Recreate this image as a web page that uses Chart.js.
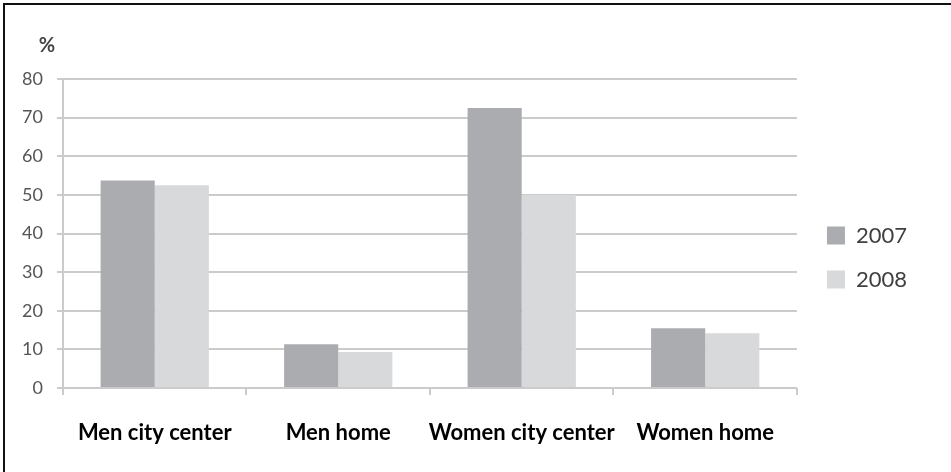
<!DOCTYPE html>
<html>
<head>
<meta charset="utf-8">
<script src="https://cdn.jsdelivr.net/npm/chart.js@4"></script>
<style>
  html, body { margin: 0; padding: 0; background: #fff; }
  #frame {
    position: absolute; left: 3px; top: 3px; width: 960px; height: 480px;
    border-left: 2px solid #111; border-top: 2px solid #111;
  }
  #wrap { position: absolute; left: 0; top: 0; width: 951px; height: 472px; }
</style>
</head>
<body>
<div id="frame"></div>
<div id="wrap"><canvas id="chart" width="951" height="472"></canvas></div>
<script>
// Share of respondents (%) by group and location
const categories = ['Men city center', 'Men home', 'Women city center', 'Women home'];
const seriesNames = ['2007', '2008'];
const values2007 = [53.7, 11.3, 72.5, 15.5];
const values2008 = [52.5, 9.3, 50, 14.2];
const yTicks = [0, 10, 20, 30, 40, 50, 60, 70, 80];
const unitLabel = '%';

const colors = ['#abacaf', '#d8d9db'];
const gridColor = '#cbcbcb';

// Draws the unit label above the value axis
const unitPlugin = {
  id: 'unitLabel',
  afterDraw(chart) {
    const y = chart.scales.y;
    const ctx = chart.ctx;
    ctx.save();
    ctx.font = 'bold 20px Lato';
    ctx.fillStyle = '#454545';
    ctx.textAlign = 'center';
    ctx.textBaseline = 'middle';
    ctx.fillText(unitLabel, y.right - 16, y.top - 33);
    ctx.restore();
  }
};

// Moves the legend a little right of the plot area and up
const legendShift = {
  id: 'legendShift',
  afterLayout(chart) {
    const lg = chart.legend;
    if (lg) {
      lg.left += 8; lg.right += 8;
      lg.top -= 18; lg.bottom -= 18;
    }
  }
};

new Chart(document.getElementById('chart'), {
  type: 'bar',
  data: {
    labels: categories,
    datasets: [
      { label: seriesNames[0], data: values2007, backgroundColor: colors[0] },
      { label: seriesNames[1], data: values2008, backgroundColor: colors[1] }
    ]
  },
  options: {
    responsive: false,
    animation: false,
    devicePixelRatio: 1,
    categoryPercentage: 0.59,
    barPercentage: 1.0,
    layout: { padding: { top: 79, bottom: 0, left: 0, right: 42 } },
    plugins: {
      tooltip: { enabled: false },
      legend: {
        position: 'right',
        align: 'center',
        labels: {
          boxWidth: 18,
          boxHeight: 18,
          padding: 22,
          color: '#404040',
          font: { family: 'Lato', size: 22 }
        }
      }
    },
    scales: {
      x: {
        grid: {
          display: true,
          drawOnChartArea: false,
          drawTicks: true,
          tickLength: 7,
          offset: true,
          color: gridColor,
          lineWidth: 2
        },
        border: { display: false },
        ticks: {
          color: '#000',
          padding: 25,
          autoSkip: false,
          maxRotation: 0,
          font: { family: 'Lato', size: 22, weight: 'bold' }
        },
        afterFit(scale) { scale.height = 84; }
      },
      y: {
        min: 0,
        max: 80,
        afterBuildTicks(scale) { scale.ticks = yTicks.map(v => ({ value: v })); },
        grid: { color: gridColor, lineWidth: 2, tickLength: 6 },
        border: { display: true, color: gridColor, width: 2 },
        ticks: {
          color: '#555555',
          padding: 14,
          font: { family: 'Lato', size: 18 }
        },
        afterFit(scale) { scale.width = 63; }
      }
    }
  },
  plugins: [unitPlugin, legendShift]
});
</script>
</body>
</html>
